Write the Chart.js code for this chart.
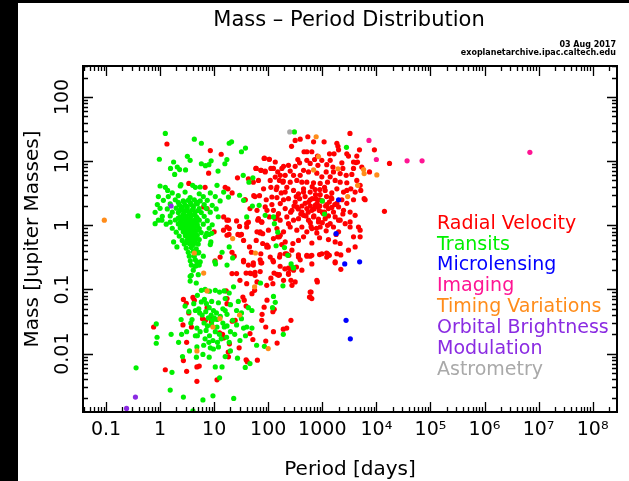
<!DOCTYPE html>
<html>
<head>
<meta charset="utf-8">
<title>Mass – Period Distribution</title>
<script src="https://cdn.jsdelivr.net/npm/chart.js@4.4.1/dist/chart.umd.min.js"></script>
<style>
  html, body { margin: 0; padding: 0; background: #000; overflow: hidden; }
  #wrap { position: absolute; left: 18px; top: 0; width: 611px; height: 481px; background: #fff; }
  #topbar { position: absolute; left: 0; top: 0; width: 629px; height: 3px; background: #000; }
</style>
</head>
<body>
<div id="wrap"><canvas id="grafico" width="611" height="481"></canvas></div>
<div id="topbar"></div>
<script>
// [period (days), mass (Jupiter masses)]
var radialVelocity = [
  [270,17],[315,21],[390,22],[540,24],[690,20],[1080,20],[1860,19],[1950,17],[3250,27],[4870,15],[9200,15],[17500,9.2],
  [460,14],[520,14],[640,14],[815,12],[980,10.3],[1360,13],[1650,13],[2000,15],[2840,13],[3050,12],[4350,12],[3780,9.7],[4200,9.5],
  [84,11],[104,10.7],[135,9.7],[192,8.3],[237,8.6],[315,8.3],[353,10.6],[380,9.4],[518,10.3],[597,9.2],[720,10.6],[830,8.6],[1210,8.8],[1400,10.3],[1570,8.1],[2300,9.4],[2400,7.7],[3780,7.7],[4480,9.7],[5380,8.1],[7470,6.8],
  [60,7.7],[73,7.2],[88,7.0],[125,7.7],[150,6.8],[179,7.7],[206,6.0],[255,7.0],[294,6.0],[390,6.0],[450,7.2],[556,6.8],[793,6.5],[981,5.7],[1180,6.8],[1400,5.7],[1610,6.8],[2140,6.4],[2770,6.0],[3520,6.2],[4350,5.0],[5010,4.2],
  [43,5.3],[53,4.7],[66,5.0],[109,5.0],[161,5.0],[187,4.7],[255,4.7],[338,5.0],[419,4.7],[518,4.7],[688,4.6],[914,4.5],[1250,4.7],[1730,5.0],[2140,4.7],[2840,4.6],[3370,3.7],
  [82,3.7],[112,3.9],[141,3.6],[174,3.2],[221,3.9],[294,3.5],[363,3.1],[450,3.7],[597,3.3],[738,3.6],[914,3.0],[1130,3.5],[1500,3.2],[1860,3.7],[2470,3.3],[2840,3.5],[4050,3.3],[5150,3.5],[5940,2.6],
  [37,2.5],[57,2.8],[69,2.9],[92,2.5],[117,2.1],[145,2.7],[192,2.5],[237,2.6],[315,2.3],[380,2.6],[483,2.2],[597,2.5],[738,2.05],[890,2.5],[1210,2.1],[1500,2.6],[1860,2.2],[2300,2.5],[2840,2.2],[3780,2.5],[6200,2.5],
  [46,1.82],[62,1.71],[88,1.93],[125,1.71],[155,1.52],[206,1.82],[274,1.71],[338,1.93],[419,1.61],[518,1.82],[641,1.71],[793,1.93],[1050,1.52],[1300,1.82],[1610,1.61],[2000,1.93],[2470,1.71],[3270,1.61],[4050,1.43],[14100,1.65],
  [66,1.27],[76,1.13],[105,1.35],[135,1.27],[166,1.2],[221,1.35],[294,1.2],[363,1.27],[450,1.43],[556,1.2],[688,1.35],[851,1.13],[1130,1.27],[1400,1.06],[1730,1.35],[2140,1.2],[2650,1.06],[3270,1.13],[4670,0.94],
  [40,0.94],[62,0.79],[71,0.76],[101,0.84],[145,0.89],[192,0.79],[255,0.94],[338,0.84],[419,0.94],[518,0.79],[641,0.89],[793,0.76],[914,0.94],[1180,0.82],[1610,0.94],[2000,0.79],[3270,0.94],[5010,0.84],
  [30,0.70],[35,0.58],[45,0.46],[60,0.58],[79,0.52],[94,0.46],[125,0.62],[161,0.66],[206,0.55],[286,0.52],[363,0.58],[450,0.66],[641,0.53],[890,0.64],[1300,0.6],[1730,0.55],[2140,0.52],[3780,0.66],[5010,0.66],
  [49,0.38],[73,0.36],[109,0.32],[166,0.35],[274,0.41],[363,0.32],[518,0.34],[597,0.33],[981,0.36],[1250,0.36],[1860,0.36],[3050,0.41],[4050,0.46],
  [35,0.27],[53,0.24],[73,0.26],[125,0.27],[166,0.23],[255,0.21],[390,0.29],[641,0.25],[1210,0.32],[1730,0.27],
  [46,0.18],[57,0.166],[71,0.19],[128,0.18],[161,0.17],[237,0.18],[294,0.2],[419,0.2],
  [30,0.139],[40,0.123],[62,0.131],[94,0.116],[192,0.139],[315,0.131],[597,0.091],[793,0.139],[597,0.076],
  [600,2.0],[700,1.8],[800,2.2],[650,2.6],[750,3.0],[900,2.0],[1000,2.4],[550,1.6],[480,2.8],[420,2.0],[360,1.8],[1100,1.6],[1200,2.8],[1350,2.3],[1500,1.9],[700,1.4],[850,1.25],[1000,1.1],[600,1.1],[500,1.4],[400,1.5],[300,2.0],[1300,1.4],[1700,2.1],[900,3.6],[1100,3.9],[650,4.0],[450,3.3],[1000,1.6],[760,2.6],[560,2.3],[880,1.7],[1150,2.0],[1450,2.7],[330,2.8],[260,1.6],[620,0.95],[780,0.9],[1250,1.0],[2400,1.5],[2000,1.2],[1800,0.72],
  [85,11.2],[105,10.7],[59,7.7],[74,7.2],[88,6.8],[112,7.7],[135,5.65],[167,6],[190,4.9],[145,3.95],[206,3.3],[117,2.76],[167,2.18],[95,1.71],[145,1.35],[237,1.06],[76,1.12],
  [1.34,18.5],[8.5,14.6],[13.5,12.8],[7.9,6.5],[6.8,3.9],[27,5.5],[16,3.9],[18,3.7],[21.5,3.2],[37.6,2.5],[54,2.9],[64,1.2],
  [3.4,4.5],[4.8,2.2],[6.4,1.93],[7.4,1.82],[3.5,1.6],[3.05,1.27],[15,1.35],[18.4,1.2],[26,1.17],[17.3,0.94],[29.5,0.96],
  [0.76,0.026],[1.25,0.0056],[2.7,0.07],[3.05,0.061],[3.4,0.043],[3.1,0.0053],[2.7,0.0078],[2.65,0.028],[3.1,0.015],[4.05,0.075],[4.3,0.068],[3.8,0.026],[4.8,0.0062],[5.3,0.0064],[4.8,0.0037],[6.1,0.035],[6.9,0.033],[7.4,0.052],[8.5,0.036],[8.9,0.031],[11.3,0.0039],[12.6,0.021],[15,0.0175],[14.3,0.02],
  [16.7,0.095],[17.3,0.072],[17.3,0.06],[18.2,0.0106],[18.4,0.0089],[19.2,0.0142],[21.6,0.032],[24.5,0.033],[29,0.0123],[36,0.068],[39,0.055],[34,0.076],[46,0.0205],[52,0.0166],[39,0.008],[41,0.0075],[56,0.097],[50,0.086],[63,0.0079],[77,0.041],[76,0.033],[90,0.026],[95,0.068],[84,0.053],[90,0.0157],
  [122,0.045],[129,0.049],[125,0.022],[146,0.0146],[190,0.024],[220,0.025],[263,0.033],[263,0.139],[275,0.116],[203,0.21],[237,0.172],[155,0.166],[145,0.172],[112,0.15],[122,0.123],[580,0.076],[640,0.072],[620,0.091],[810,0.131],
  [26,0.177],[21.4,0.177],[39,0.18],[48,0.177],[57,0.185],[35,0.285],[43,0.24],[53,0.26],[71,0.29],[76,0.26],[122,0.285],[162,0.32],[237,0.216],[333,0.224],[206,0.36],[241,0.34],[362,0.345],[520,0.33],[640,0.34],[890,0.35],[1200,0.37],[1350,0.34],[1730,0.26],[2200,0.345],[2200,0.206],
  [21.4,0.38],[23.5,0.33],[14.9,0.84],[17.3,0.7],[18.8,0.72],[10,0.79],[27.5,0.72],[32,0.72],[10.4,0.28],[12.9,0.32],[17.3,1.2],[19,0.89],[43,1.12],[40,1.06],[71,0.79],[79,0.74],[150,0.66],[167,0.7],[178,0.5],[95,0.49],[100,0.46],[220,0.36]
];
var transits = [
  [1.25,27],[0.97,10.7],[0.39,1.4],[4.3,22],[5.8,19],[19,19],[21,20],[38,16],[32,14],
  [1.78,9.7],[1.56,7.7],[2.08,8.1],[2.3,7.4],[1.86,6.2],[2.96,7.3],[3.2,11.9],[3.6,10.3],[5.8,9.1],[6.9,8.5],[8,8.8],[8.8,10.1],[11.8,7.0],[15.8,9.1],[17.2,10.6],[34.5,6],[52,5.5],[44,4.7],
  [1.0,4.1],[1.38,3.5],[2.43,4.3],[4.0,4.2],[5.5,3.95],[11.3,4.2],[15,3.3],[18.4,2.75],
  [51,2.0],[68,2.05],[88,1.43],[29.5,2.94],[35,2.45],[40,1.35],[130,1.06],[125,1.35],
  [2800,16.4],[1000,2.4],[1100,1.5],[305,28.5],[230,0.34],[290,0.22],[150,0.78],[140,0.48],[200,0.45],[265,0.25],
  [1.25,3.9],[2.36,4.1],[4.5,3.9],[1.68,3.2],[2.9,3.3],[5.3,3.1],[8.5,3.2],
  [0.93,2.8],[1.42,2.8],[2.17,2.9],[3.6,2.7],[6.3,2.8],[10.5,2.8],
  [1.15,2.45],[1.91,2.5],[2.68,2.4],[3.32,2.45],[4.29,2.5],[5.53,2.4],[7.46,2.45],[12.9,2.4],
  [2.17,2.28],[2.8,2.3],[3.62,2.26],[4.67,2.3],
  [0.89,2.1],[1.54,2.15],[2.26,2.1],[2.93,2.05],[3.78,2.1],[4.87,2.15],[6.55,2.1],[9.2,2.05],
  [2.47,1.96],[3.18,1.95],[4.11,1.98],
  [1.0,1.84],[1.36,1.8],[1.99,1.85],[2.57,1.84],[3.18,1.8],[4.11,1.86],[5.3,1.82],[7.14,1.84],[10.9,1.8],
  [2.36,1.71],[3.05,1.7],[3.94,1.72],[5.08,1.7],
  [0.81,1.59],[1.68,1.6],[2.17,1.58],[2.8,1.6],[3.47,1.59],[4.48,1.62],[5.77,1.58],[8.48,1.6],
  [2.68,1.48],[3.47,1.49],[4.29,1.47],
  [1.1,1.38],[1.54,1.4],[2.36,1.36],[3.05,1.38],[3.78,1.4],[4.67,1.37],[6.55,1.38],[11.9,1.36],
  [2.17,1.29],[2.8,1.3],[3.62,1.28],[4.87,1.3],
  [0.93,1.2],[1.91,1.21],[2.47,1.19],[2.93,1.2],[3.47,1.22],[4.29,1.19],[5.3,1.2],[7.46,1.18],
  [2.36,1.11],[3.05,1.1],[3.78,1.12],[4.48,1.11],
  [1.3,1.04],[2.17,1.05],[2.68,1.03],[3.32,1.04],[3.94,1.06],[4.87,1.03],[6.29,1.04],[9.2,1.02],
  [2.57,0.96],[3.18,0.97],[3.94,0.95],[4.87,0.97],
  [1.68,0.9],[2.36,0.91],[2.93,0.89],[3.62,0.9],[4.29,0.92],[5.3,0.89],[8.1,0.9],
  [2.8,0.84],[3.32,0.85],[4.11,0.83],[5.08,0.84],
  [1.99,0.78],[2.68,0.79],[3.18,0.77],[3.78,0.78],[4.48,0.8],[5.77,0.77],
  [3.05,0.73],[3.62,0.74],[4.29,0.72],
  [2.26,0.68],[2.93,0.69],[3.47,0.67],[4.11,0.68],[4.87,0.7],[6.85,0.67],
  [3.32,0.63],[3.94,0.64],[4.67,0.62],
  [2.57,0.58],[3.18,0.59],[3.78,0.57],[4.48,0.58],[5.3,0.6],
  [3.05,0.54],[3.62,0.55],[4.48,0.53],
  [2.8,0.51],[3.47,0.52],[4.11,0.5],[5.08,0.51],[8.48,0.5],
  [3.05,0.44],[3.78,0.45],[4.67,0.43],[3.32,0.38],[4.11,0.39],[5.08,0.37],[3.47,0.33],[4.29,0.33],
  [3.62,0.28],[4.48,0.29],[5.53,0.27],[3.78,0.24],[4.67,0.235],[4.11,0.2],[3.78,0.166],[5.08,0.17],
  [5.2,0.38],[6.3,0.33],[4.8,0.27],[5.3,0.24],[4.4,0.23],[10.3,0.27],[10.6,0.25],[17.3,0.24],[22,0.31],[19,0.46],[14,0.38],
  [8,0.72],[7.3,0.75],[9,0.75],[8.7,0.55],[2.05,0.46],[1.78,0.55],[1.08,1.2],[1.54,1.12],[0.81,1.06],
  [0.36,0.006],[0.85,0.029],[0.88,0.018],[0.85,0.0145],[1.54,0.0027],[1.66,0.0051],[1.6,0.020],[2.45,0.034],[2.5,0.020],
  [3.6,0.16],[3.6,0.135],[4.67,0.126],[4.9,0.081],[5.8,0.097],[6.8,0.1],[6.6,0.07],[8.2,0.094],[10.5,0.097],[12.6,0.091],[15.3,0.095],[19,0.088],[22.8,0.11],
  [4.5,0.047],[5.4,0.043],[8.1,0.052],[9.7,0.047],[14.5,0.05],[16,0.047],[26,0.047],[32,0.043],[43,0.052],[50,0.047],
  [3.9,0.034],[3.7,0.03],[7.8,0.036],[9.3,0.033],[11.3,0.034],[17.3,0.041],[4.8,0.025],[4.5,0.019],[4.9,0.019],[7.1,0.023],[8.2,0.019],
  [11.3,0.026],[15.4,0.026],[17.3,0.027],[22,0.033],[26,0.028],[32,0.035],[35,0.025],[40,0.026],[50,0.025],
  [6.4,0.0135],[8.5,0.0123],[9.7,0.0118],[12,0.0127],[4.8,0.0127],[4.7,0.0088],[6.2,0.0097],[8.1,0.0088],[10.5,0.0062],[14,0.0062],[12.6,0.0042],
  [37.6,0.0061],[46,0.007],[61,0.0135],[85,0.013],[125,0.078],[135,0.063],[120,0.052],[190,0.02],[187,0.114],[295,0.216],[72,0.126],
  [2.7,0.0021],[6.2,0.0019],[9.5,0.0022],[23,0.002],[4.05,0.00128],
  [5.2,0.05],[6,0.04],[7,0.045],[8.8,0.04],[10,0.036],[11,0.043],[13,0.038],[14.5,0.03],[6.5,0.03],[7.5,0.027],[9,0.028],[10.5,0.022],[12.5,0.02],
  [5.5,0.022],[6.8,0.017],[8,0.015],[9.5,0.016],[11.5,0.015],[13.5,0.017],[17,0.018],[20,0.022],[24,0.02],[19,0.015],
  [5.8,0.064],[7.2,0.06],[9,0.065],[12,0.062],[16,0.072],[20,0.058],[28,0.065],[4.2,0.06],[3.4,0.045],[2.9,0.055],
  [3.1,0.022],[2.2,0.015],[2.6,0.009],[3.5,0.011],[16,0.009],[20,0.011],[30,0.016],[38,0.019],[27,0.0085]
];
var microlensing = [[2000,2.5],[1800,0.74],[2600,0.25],[4900,0.27],[2750,0.033],[3300,0.017]];
var imaging = [[7300,21],[10000,10.6],[37000,10.1],[70000,10.1],[6900000,13.7]];
var timingVariations = [
  [0.093,1.2],[770,24],[850,11.8],[690,7.3],[1950,7.6],[2950,2.8],[4500,4.2],[5800,7.4],[5940,6.4],[10200,6.1],
  [22,0.62],[58,0.37],[4.3,0.37],[6.4,0.18],[7.4,0.095],[56,0.11],[12.8,0.035],[9.5,0.026],[29.5,0.04],[100,0.012],[4.8,0.011]
];
var orbitalBrightness = [[0.35,0.0021],[0.24,0.0014],[1.6,2.0]];
var astrometry = [[250,28.5]];

var methodNames = ['Radial Velocity', 'Transits', 'Microlensing', 'Imaging', 'Timing Variations', 'Orbital Brightness Modulation', 'Astrometry'];
var methodColors = ['#ff0000', '#00f000', '#0000ff', '#ff1493', '#ff8c1a', '#8a2be2', '#a9a9a9'];
var methodData = [radialVelocity, transits, microlensing, imaging, timingVariations, orbitalBrightness, astrometry];

var xTickValues = [0.1, 1, 10, 100, 1000, 1e4, 1e5, 1e6, 1e7, 1e8];
var xTickLabels = ['0.1', '1', '10', '100', '1000', '10\u2074', '10\u2075', '10\u2076', '10\u2077', '10\u2078'];
var yTickValues = [0.01, 0.1, 1, 10, 100];
var yTickLabels = ['0.01', '0.1', '1', '10', '100'];

var FONTE = "'DejaVu Sans', sans-serif";
Chart.defaults.font.family = FONTE;
Chart.defaults.color = '#000';

// moldura com marcas para dentro (major e minor) nos quatro lados
var moldura = {
  id: 'moldura',
  afterDatasetsDraw: function (chart) {
    var ctx = chart.ctx, a = chart.chartArea, x = chart.scales.x, y = chart.scales.y;
    ctx.save();
    ctx.strokeStyle = '#000';
    ctx.lineWidth = 1.3;
    ctx.beginPath();
    for (var e = -3; e <= 9; e++) {
      for (var m = 1; m <= 9; m++) {
        var v = m * Math.pow(10, e);
        var len = m === 1 ? 10 : 5;
        if (v >= x.min && v <= x.max) {
          var px = Math.round(x.getPixelForValue(v)) + 0.5;
          ctx.moveTo(px, a.bottom); ctx.lineTo(px, a.bottom - len);
          ctx.moveTo(px, a.top); ctx.lineTo(px, a.top + len);
        }
        if (v >= y.min && v <= y.max) {
          var py = Math.round(y.getPixelForValue(v)) + 0.5;
          ctx.moveTo(a.left, py); ctx.lineTo(a.left + len, py);
          ctx.moveTo(a.right, py); ctx.lineTo(a.right - len, py);
        }
      }
    }
    ctx.stroke();
    ctx.lineWidth = 2;
    ctx.strokeRect(a.left, a.top, a.right - a.left, a.bottom - a.top);

    // y tick labels, rotated like the original
    ctx.fillStyle = '#000';
    ctx.font = '19px ' + FONTE;
    ctx.textAlign = 'center';
    ctx.textBaseline = 'middle';
    yTickValues.forEach(function (v, i) {
      ctx.save();
      ctx.translate(45, y.getPixelForValue(v));
      ctx.rotate(-Math.PI / 2);
      ctx.fillText(yTickLabels[i], 0, 0);
      ctx.restore();
    });

    // title and stamp
    ctx.textBaseline = 'alphabetic';
    ctx.font = '21px ' + FONTE;
    ctx.fillText('Mass \u2013 Period Distribution', 331, 26);
    ctx.textAlign = 'right';
    ctx.font = 'bold 8px ' + FONTE;
    ctx.fillText('03 Aug 2017', 598, 47);
    ctx.fillText('exoplanetarchive.ipac.caltech.edu', 598, 55);

    // legend inside the plot
    ctx.textAlign = 'left';
    ctx.font = '19px ' + FONTE;
    var linha = 0;
    methodNames.forEach(function (nome, i) {
      var partes = nome === 'Orbital Brightness Modulation' ? ['Orbital Brightness', 'Modulation'] : [nome];
      ctx.fillStyle = methodColors[i];
      partes.forEach(function (p) {
        ctx.fillText(p, 419, 228.6 + linha * 20.9);
        linha++;
      });
    });
    ctx.restore();
  }
};

var datasets = methodNames.map(function (nome, i) {
  return {
    label: nome,
    data: methodData[i].map(function (p) { return { x: p[0], y: p[1] }; }),
    backgroundColor: methodColors[i],
    borderWidth: 0,
    pointRadius: 2.6,
    order: methodNames.length - i
  };
});

var myChart = new Chart(document.getElementById('grafico'), {
  type: 'scatter',
  data: { datasets: datasets },
  plugins: [moldura],
  options: {
    responsive: false,
    animation: false,
    devicePixelRatio: 1,
    layout: { padding: { left: 0, right: 12, top: 66, bottom: 0 } },
    plugins: { legend: { display: false }, tooltip: { enabled: false } },
    scales: {
      x: {
        type: 'logarithmic',
        position: 'bottom',
        min: 0.03755,
        max: 2.82e8,
        grid: { display: false, drawTicks: false },
        border: { display: false },
        afterBuildTicks: function (s) { s.ticks = xTickValues.map(function (v) { return { value: v }; }); },
        afterFit: function (s) { s.height = 69; },
        ticks: {
          autoSkip: false, maxRotation: 0, minRotation: 0, padding: 7,
          font: { size: 19 },
          callback: function (v, i) { return xTickLabels[i]; }
        },
        title: { display: true, text: 'Period [days]', font: { size: 20, lineHeight: 1.1 }, padding: { top: 0, bottom: 0 } }
      },
      y: {
        type: 'logarithmic',
        position: 'left',
        min: 0.00123,
        max: 304,
        grid: { display: false, drawTicks: false },
        border: { display: false },
        afterBuildTicks: function (s) { s.ticks = yTickValues.map(function (v) { return { value: v }; }); },
        afterFit: function (s) { s.width = 65; },
        ticks: { display: false },
        title: { display: true, text: 'Mass [Jupiter Masses]', font: { size: 20, lineHeight: 1.1 }, padding: { top: 4, bottom: 0 } }
      }
    }
  }
});
</script>
</body>
</html>
